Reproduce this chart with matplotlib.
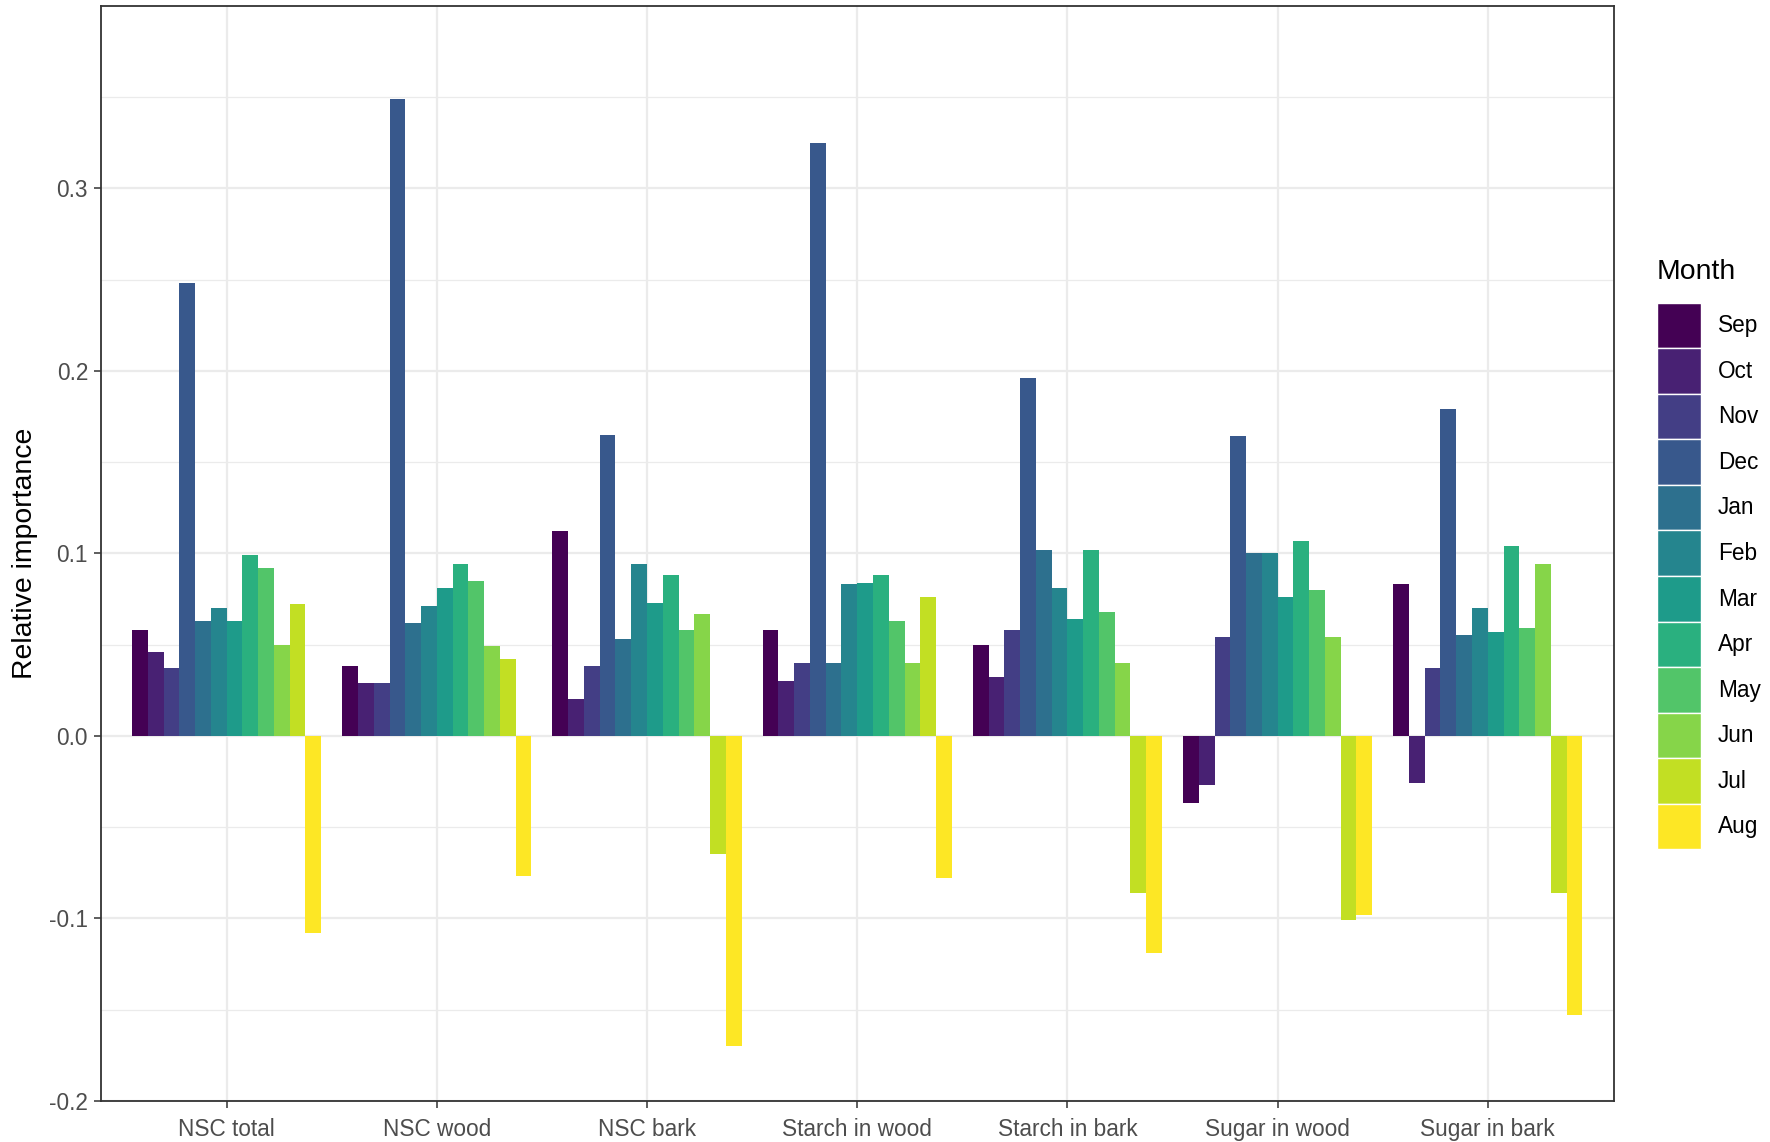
import matplotlib
matplotlib.use("Agg")
import matplotlib.pyplot as plt
import numpy as np
from matplotlib.patches import Patch

plt.rcParams['font.family'] = ['Liberation Sans', 'DejaVu Sans']
plt.rcParams['axes.unicode_minus'] = False

# Response variables (x axis groups)
variables = ["NSC total", "NSC wood", "NSC bark", "Starch in wood",
             "Starch in bark", "Sugar in wood", "Sugar in bark"]
months = ["Sep", "Oct", "Nov", "Dec", "Jan", "Feb",
          "Mar", "Apr", "May", "Jun", "Jul", "Aug"]

# Relative importance per month, one list per variable
nsc_total = [0.058, 0.046, 0.037, 0.248, 0.063, 0.070, 0.063, 0.099, 0.092, 0.050, 0.072, -0.108]
nsc_wood = [0.038, 0.029, 0.029, 0.349, 0.062, 0.071, 0.081, 0.094, 0.085, 0.049, 0.042, -0.077]
nsc_bark = [0.112, 0.020, 0.038, 0.165, 0.053, 0.094, 0.073, 0.088, 0.058, 0.067, -0.065, -0.170]
starch_wood = [0.058, 0.030, 0.040, 0.325, 0.040, 0.083, 0.084, 0.088, 0.063, 0.040, 0.076, -0.078]
starch_bark = [0.050, 0.032, 0.058, 0.196, 0.102, 0.081, 0.064, 0.102, 0.068, 0.040, -0.086, -0.119]
sugar_wood = [-0.037, -0.027, 0.054, 0.164, 0.100, 0.100, 0.076, 0.107, 0.080, 0.054, -0.101, -0.098]
sugar_bark = [0.083, -0.026, 0.037, 0.179, 0.055, 0.070, 0.057, 0.104, 0.059, 0.094, -0.086, -0.153]

values = np.array([nsc_total, nsc_wood, nsc_bark, starch_wood,
                   starch_bark, sugar_wood, sugar_bark])

colors = plt.cm.viridis(np.linspace(0, 1, len(months)))

fig = plt.figure(figsize=(17.7, 11.42), dpi=100)
ax = fig.add_axes([0.0568, 0.036, 0.855, 0.959])

x = np.arange(1, len(variables) + 1)
total_w = 0.9
bw = total_w / len(months)
for j, m in enumerate(months):
    offs = -total_w / 2 + bw * (j + 0.5)
    ax.bar(x + offs, values[:, j], width=bw, color=colors[j], linewidth=0, zorder=3)

ax.set_xlim(0.4, len(variables) + 0.6)
ax.set_ylim(-0.2, 0.4)

# theme_bw-like grid
ax.set_yticks([-0.2, -0.1, 0.0, 0.1, 0.2, 0.3])
ax.set_yticklabels(["-0.2", "-0.1", "0.0", "0.1", "0.2", "0.3"])
ax.set_yticks([-0.15, -0.05, 0.05, 0.15, 0.25, 0.35], minor=True)
ax.set_xticks(x)
ax.set_xticklabels(variables)
ax.grid(True, which='major', color='#EBEBEB', linewidth=1.6, zorder=0)
ax.grid(True, which='minor', axis='y', color='#EBEBEB', linewidth=0.9, zorder=0)
ax.tick_params(which='minor', length=0)
ax.tick_params(which='major', length=5, width=1.1, color='#333333',
               labelsize=16.3, labelcolor='#4D4D4D', pad=4)
ax.tick_params(axis='x', pad=7)
for s in ax.spines.values():
    s.set_color('#333333')
    s.set_linewidth(1.3)
ax.set_axisbelow(True)

ax.set_ylabel("Relative importance", fontsize=20.4, color='black', labelpad=8)

# legend: title as separate text, keys below it
fig.text(0.936, 0.762, "Month", fontsize=20.4, ha='left', va='center')
handles = [Patch(facecolor=colors[j], edgecolor='white', linewidth=1.0, label=m)
           for j, m in enumerate(months)]
leg = fig.legend(handles=handles, loc='upper left',
                 bbox_to_anchor=(0.936, 0.735), frameon=False,
                 fontsize=16.3, handlelength=1.95, handleheight=2.72,
                 labelspacing=0.0, handletextpad=0.75,
                 borderaxespad=0, borderpad=0)

fig.savefig("out.png", dpi=100)
